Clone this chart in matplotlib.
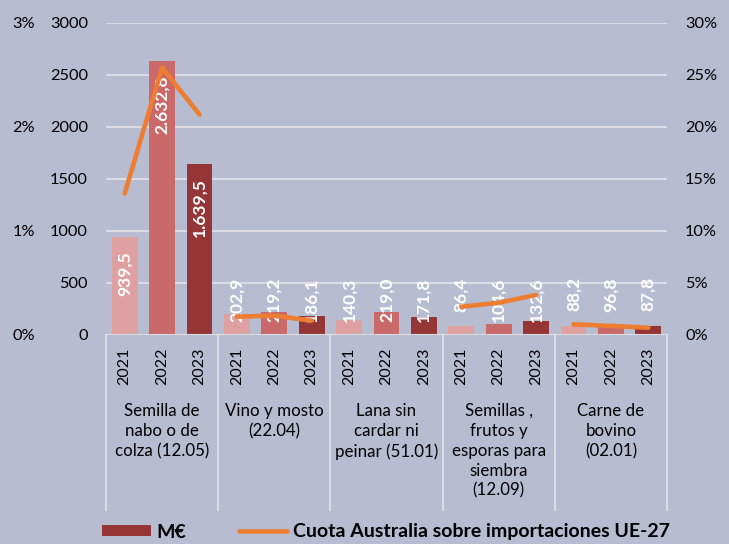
import matplotlib
matplotlib.use("Agg")
import matplotlib.pyplot as plt
import matplotlib.transforms as mtransforms
from matplotlib.patches import Patch
from matplotlib.lines import Line2D
import numpy as np

plt.rcParams['font.family'] = ['Lato', 'DejaVu Sans']

# datos
categorias = ["Semilla de\nnabo o de\ncolza (12.05)",
              "Vino y mosto\n(22.04)",
              "Lana sin\ncardar ni\npeinar (51.01)",
              "Semillas ,\nfrutos y\nesporas para\nsiembra\n(12.09)",
              "Carne de\nbovino\n(02.01)"]
anios = ["2021", "2022", "2023"]
valores = [[939.5, 2632.8, 1639.5],
           [202.9, 219.2, 186.1],
           [140.3, 219.0, 171.8],
           [86.4, 104.6, 132.6],
           [88.2, 96.8, 87.8]]
cuota = [[13.6, 25.7, 21.2],
         [1.76, 1.86, 1.38],
         [np.nan, np.nan, np.nan],
         [2.72, 3.1, 3.85],
         [1.03, 0.87, 0.70]]

fondo = '#b8bcd1'
colores = ['#dea0a0', '#c96969', '#953535']
naranja = '#ed7d31'
gris = '#dcdde4'

fig = plt.figure(figsize=(7.29, 5.44), dpi=100, facecolor=fondo)
ax = fig.add_axes([106/729, 1 - 335/544, 561/729, 312/544])
ax.set_facecolor(fondo)

n = len(anios)
for g, vals in enumerate(valores):
    for j, v in enumerate(vals):
        x = g * n + j
        ax.bar(x, v, width=0.69, color=colores[j], zorder=2)
        etiqueta = f"{v:,.1f}".replace(",", "X").replace(".", ",").replace("X", ".")
        if v > 500:
            ax.annotate(etiqueta, (x, v), xytext=(0, -10), textcoords='offset points',
                        ha='center', va='top', rotation=90, color='white',
                        fontsize=12.5, fontweight='bold', zorder=4)
        else:
            ax.text(x, 555, etiqueta, ha='center', va='top', rotation=90,
                    color='white', fontsize=12.5, fontweight='bold', zorder=4)

ax.set_xlim(-0.5, len(valores) * n - 0.5)
ax.set_ylim(0, 3000)
ax.set_yticks(np.arange(0, 3001, 500))
ax.yaxis.grid(True, color=gris, linewidth=1.5, zorder=0)
ax.set_axisbelow(True)
ax.set_xticks(np.arange(len(valores) * n))
ax.set_xticklabels(anios * len(valores), rotation=90, fontsize=11.5)
ax.tick_params(axis='x', length=0, pad=9)
ax.tick_params(axis='y', length=0, pad=13, labelsize=11.8)
for s in ax.spines.values():
    s.set_visible(False)
ax.axhline(0, color=gris, linewidth=1.5, zorder=3)

# separadores y nombres de categoria
tr = mtransforms.blended_transform_factory(ax.transData, ax.transAxes)
for g in range(len(valores) + 1):
    ax.plot([g * n - 0.5, g * n - 0.5], [0, -0.561], transform=tr,
            color=gris, linewidth=1.5, clip_on=False)
for g, nombre in enumerate(categorias):
    ax.text(g * n + 1, -0.218, nombre, transform=tr, ha='center', va='top',
            fontsize=12.2, linespacing=1.3)

# eje de porcentaje a la izquierda (0-3%)
sec = ax.secondary_yaxis('left', functions=(lambda v: v / 1000, lambda v: v * 1000))
sec.set_yticks([0, 1, 2, 3])
sec.set_yticklabels([f"{t}%" for t in [0, 1, 2, 3]])
sec.tick_params(length=0, pad=51, labelsize=11.8)
for s in sec.spines.values():
    s.set_visible(False)

# eje derecho y linea de cuota
ax2 = ax.twinx()
ax2.set_ylim(0, 30)
ax2.set_yticks(np.arange(0, 31, 5))
ax2.set_yticklabels([f"{t}%" for t in range(0, 31, 5)])
ax2.tick_params(axis='y', length=0, pad=13, labelsize=11.8)
for s in ax2.spines.values():
    s.set_visible(False)
for g, c in enumerate(cuota):
    xs = np.arange(n) + g * n
    ax2.plot(xs, c, color=naranja, linewidth=3.3, solid_capstyle='round', zorder=3)

handles = [Patch(facecolor=colores[2]),
           Line2D([0], [0], color=naranja, linewidth=3.3, solid_capstyle='round')]
fig.legend(handles, ["M€", "Cuota Australia sobre importaciones UE-27"],
           loc='center', bbox_to_anchor=(386/729, 12/544), ncol=2, frameon=False,
           prop={'weight': 'bold', 'size': 14}, handlelength=2.5,
           handleheight=0.5, columnspacing=2.7, handletextpad=0.3)

fig.savefig("out.png", dpi=100, facecolor=fondo)
